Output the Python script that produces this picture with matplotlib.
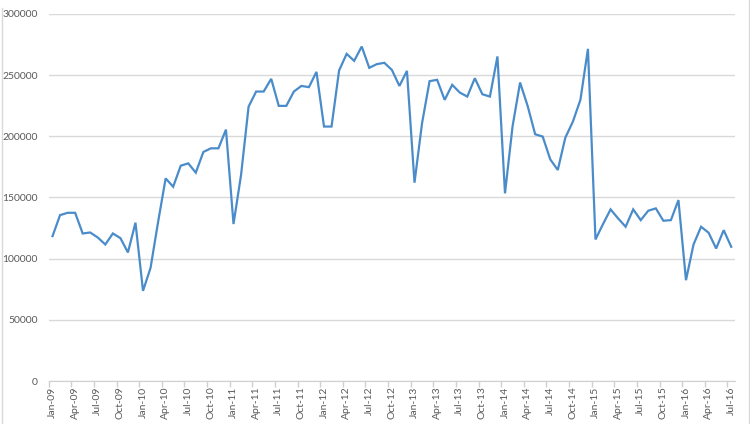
import numpy as np
import pandas as pd
import matplotlib
matplotlib.use("Agg")
import matplotlib.pyplot as plt
from matplotlib.lines import Line2D

# monthly values, Jan-09 .. Jul-16
months = pd.date_range("2009-01-01", "2016-07-01", freq="MS").strftime("%b-%y").tolist()
values = [
    118400, 135600, 137500, 137500, 120600, 121400, 117300, 111600, 120600, 116800, 105100, 129400,  # 2009
    73700, 92500, 130000, 165600, 158800, 176000, 177900, 170300, 187200, 190200, 190200, 205500,    # 2010
    128300, 168400, 224300, 236600, 236600, 247000, 224900, 224900, 236600, 241200, 240200, 252700,  # 2011
    208000, 208000, 253800, 267400, 261700, 273400, 256000, 259000, 260100, 254300, 241200, 253500,  # 2012
    162100, 210700, 245100, 246200, 229800, 242100, 235800, 232500, 247500, 234400, 232500, 265300,  # 2013
    153400, 208000, 244000, 224900, 201700, 199800, 181200, 172500, 198900, 212000, 229800, 271500,  # 2014
    115700, 128300, 140300, 132900, 126100, 140300, 131500, 139200, 141100, 131000, 131500, 147900,  # 2015
    82400, 111600, 126100, 121200, 108300, 123300, 109700,                                           # 2016
]

plt.rcParams['font.family'] = ['Lato', 'DejaVu Sans']

fig = plt.figure(figsize=(7.5, 4.24), dpi=100, facecolor='white')
ax = fig.add_axes([0.065, 0.1014, 0.915, 0.8656])

x = np.arange(len(values))
ax.plot(x, values, color='#4a8cca', linewidth=1.6, solid_joinstyle='miter')

ax.set_xlim(-0.5, len(values) - 0.5)
ax.set_ylim(0, 300000)
ax.set_yticks(np.arange(0, 300001, 50000))
ax.yaxis.grid(True, color='#d9d9d9', linewidth=1)
ax.set_axisbelow(True)
ax.tick_params(axis='y', length=0, labelsize=7.5, labelcolor='#595959', pad=8)

ax.set_xticks(x[::3])
ax.set_xticklabels(months[::3], rotation=90)
ax.set_xticks(np.arange(-0.5, len(values), 3), minor=True)
ax.tick_params(axis='x', which='major', length=0, labelsize=7.5, labelcolor='#595959', pad=4)
ax.tick_params(axis='x', which='minor', length=4, color='#d0d0d0', width=1)

for side in ['top', 'right', 'left']:
    ax.spines[side].set_visible(False)
ax.spines['bottom'].set_color('#d0d0d0')

# faint chart border on the left and right edges
fig.add_artist(Line2D([0.003, 0.003], [0, 0.98], transform=fig.transFigure, color='#d9d9d9', linewidth=1))
fig.add_artist(Line2D([0.998, 0.998], [0, 1], transform=fig.transFigure, color='#d9d9d9', linewidth=1))

fig.savefig("out.png", dpi=100, facecolor='white')
